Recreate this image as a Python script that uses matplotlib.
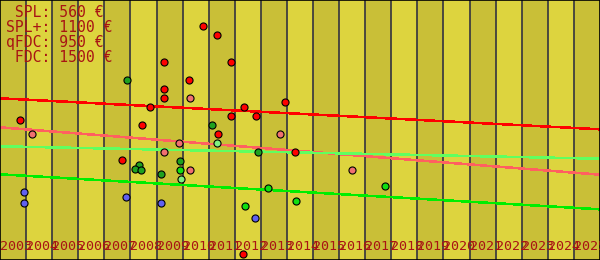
import matplotlib
matplotlib.use("Agg")
import matplotlib.pyplot as plt
import numpy as np

# years shown as columns
years = list(range(2003, 2026))

# price notes (top left)
notes = [" SPL: 560 €", "SPL+: 1100 €", "qFDC: 950 €", " FDC: 1500 €"]

# points: (fractional year, value)
red_x = [2003.77, 2010.79, 2011.33, 2009.30, 2011.87, 2010.26, 2009.30, 2009.30, 2008.76,
         2012.36, 2013.94, 2008.45, 2011.84, 2012.82, 2011.37, 2007.69, 2014.32, 2012.33]
red_y = [139.7, 233.7, 224.7, 197.7, 197.7, 179.7, 170.7, 161.7, 152.7,
         152.7, 157.7, 134.7, 143.7, 143.7, 125.7, 99.7, 107.7, 5.7]
salmon_x = [2004.24, 2010.29, 2009.87, 2009.30, 2010.29, 2013.74, 2016.50]
salmon_y = [126.0, 161.7, 116.7, 107.7, 89.7, 125.7, 89.7]
dkgreen_x = [2007.88, 2011.11, 2008.34, 2008.18, 2008.42, 2009.18, 2009.91, 2012.90]
dkgreen_y = [179.7, 134.7, 94.7, 90.7, 90.3, 85.7, 98.7, 107.7]
green_x = [2009.91, 2013.29, 2012.40, 2014.36, 2017.77]
green_y = [89.7, 71.7, 53.7, 58.7, 73.7]
ltgreen_x = [2011.33, 2009.95]
ltgreen_y = [116.7, 80.7]
blue_x = [2003.93, 2003.93, 2007.84, 2009.18, 2012.79]
blue_y = [67.7, 56.7, 62.7, 56.7, 41.7]

# trend lines: value at start (2003) and end (2026)
trend_red = [161.7, 130.7]
trend_salmon = [132.7, 85.3]
trend_ltgreen = [113.7, 101.3]
trend_green = [85.7, 50.7]

fig = plt.figure(figsize=(6, 2.6), dpi=100)
ax = fig.add_axes([0, 0, 1, 1])
ax.set_xlim(years[0], years[-1] + 1)
ax.set_ylim(0, 260)

for i, yr in enumerate(years):
    ax.axvspan(yr, yr + 1, color="#c9bf37" if i % 2 == 0 else "#ddd43e", lw=0, zorder=0)
    if i > 0:
        ax.axvline(yr, color="#33333f", lw=1.2, zorder=1)

xs = [years[0], years[-1] + 1]
ax.plot(xs, trend_red, color="#ff0000", lw=1.1, antialiased=False, zorder=2)
ax.plot(xs, trend_salmon, color="#ff6060", lw=1.1, antialiased=False, zorder=2)
ax.plot(xs, trend_ltgreen, color="#60ff60", lw=1.1, antialiased=False, zorder=2)
ax.plot(xs, trend_green, color="#00ee00", lw=1.1, antialiased=False, zorder=2)

kw = dict(s=26, edgecolors="black", linewidths=0.8, zorder=3)
ax.scatter(red_x, red_y, c="#ff0000", **kw)
ax.scatter(salmon_x, salmon_y, c="#f07070", **kw)
ax.scatter(dkgreen_x, dkgreen_y, c="#1fa01f", **kw)
ax.scatter(green_x, green_y, c="#10e010", **kw)
ax.scatter(ltgreen_x, ltgreen_y, c="#80f080", **kw)
ax.scatter(blue_x, blue_y, c="#6060f0", **kw)

# year labels, left aligned on each column, overlapping like the original
for yr in years:
    ax.text(yr, 10.3, str(yr), ha="left", va="baseline", family="DejaVu Sans Mono",
            fontsize=9.6, color="#a81414", zorder=4)

for i, line in enumerate(notes):
    ax.text(6.5 / 600, (260 - 16.7 - 15 * i) / 260, line, transform=ax.transAxes,
            ha="left", va="baseline", family="DejaVu Sans Mono", fontsize=10.6,
            color="#a81414", zorder=4)

ax.set_xticks([])
ax.set_yticks([])
for sp in ax.spines.values():
    sp.set_color("black")
    sp.set_linewidth(1.2)

fig.savefig("out.png", dpi=100)
